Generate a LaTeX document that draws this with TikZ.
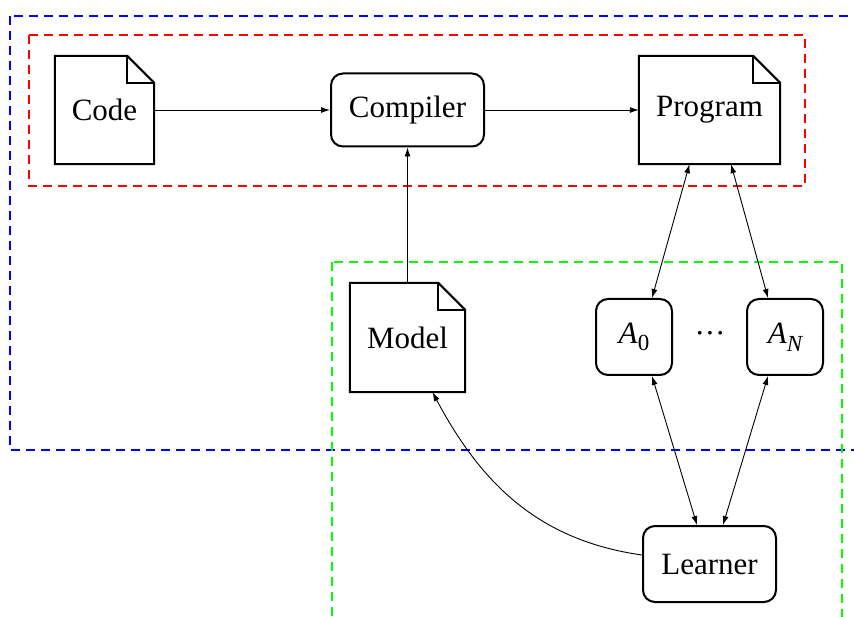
\documentclass[tikz,border=0pt]{standalone}
\usepackage{fontspec}
\setmainfont{Liberation Serif}
\usetikzlibrary{arrows.meta}
\newcommand{\subA}[1]{\textit{A}\raisebox{-0.25em}{\fontsize{23}{23}\selectfont #1}}
\tikzset{
  txt/.style={font=\fontsize{31}{36}\selectfont, inner sep=0pt},
  rbox/.style={txt, draw, line width=2pt, rounded corners=12pt},
  conn/.style={line width=0.9pt, -{Latex[length=9pt,width=6pt]}},
  bconn/.style={line width=0.9pt, {Latex[length=9pt,width=6pt]}-{Latex[length=9pt,width=6pt]}},
  dbox/.style={line width=2pt, dash pattern=on 9pt off 6pt},
}
\newcommand{\docshape}[1]{%
  \draw[line width=2pt, line join=miter]
    (#1.north west) -- ([xshift=-27pt]#1.north east) -- ([yshift=-27pt]#1.north east)
    -- (#1.south east) -- (#1.south west) -- cycle;
  \draw[line width=2pt]
    ([xshift=-27pt]#1.north east) |- ([yshift=-27pt]#1.north east);}
\begin{document}
\begin{tikzpicture}[x=1pt,y=-1pt]
\useasboundingbox (0,0) rectangle (854,617);
\clip (0,0) rectangle (854,617);
% dashed regions
\draw[dbox, blue] (10,16) rectangle (880,450);
\draw[dbox, red] (29,35) rectangle (805,186);
\draw[dbox, green] (332,262) rectangle (842,650);
% nodes
\node[txt, minimum width=99pt, minimum height=108pt] (code) at (104.5,110) {Code};
\node[rbox, minimum width=153pt, minimum height=73pt] (comp) at (407.5,110) {Compiler};
\node[txt, minimum width=141pt, minimum height=108pt] (prog) at (709.5,110) {Program};
\node[txt, minimum width=115pt, minimum height=109pt] (model) at (407.5,337.5) {Model};
\node[rbox, minimum width=76pt, minimum height=76pt] (a0) at (634,337) {\subA{0}};
\node[rbox, minimum width=76pt, minimum height=76pt] (an) at (785,337) {\subA{\itshape N}};
\node[txt] (dots) at (710,337) {···};
\node[rbox, minimum width=133pt, minimum height=76pt] (learn) at (709.5,564) {Learner};
\docshape{code}
\docshape{prog}
\docshape{model}
% connectors
\draw[conn] (code) -- (comp);
\draw[conn] (comp) -- (prog);
\draw[conn] (model.north) -- (comp.south);
\draw[bconn] ([xshift=-20pt]prog.south) -- ([xshift=18pt]a0.north);
\draw[bconn] ([xshift=21.5pt]prog.south) -- ([xshift=-17pt]an.north);
\draw[bconn] ([xshift=18pt]a0.south) -- ([xshift=-12.5pt]learn.north);
\draw[bconn] ([xshift=-17pt]an.south) -- ([xshift=13.5pt]learn.north);
\draw[conn] ([yshift=9pt]learn.west) to[out=172, in=-62] ([xshift=25pt]model.south);
\end{tikzpicture}
\end{document}
